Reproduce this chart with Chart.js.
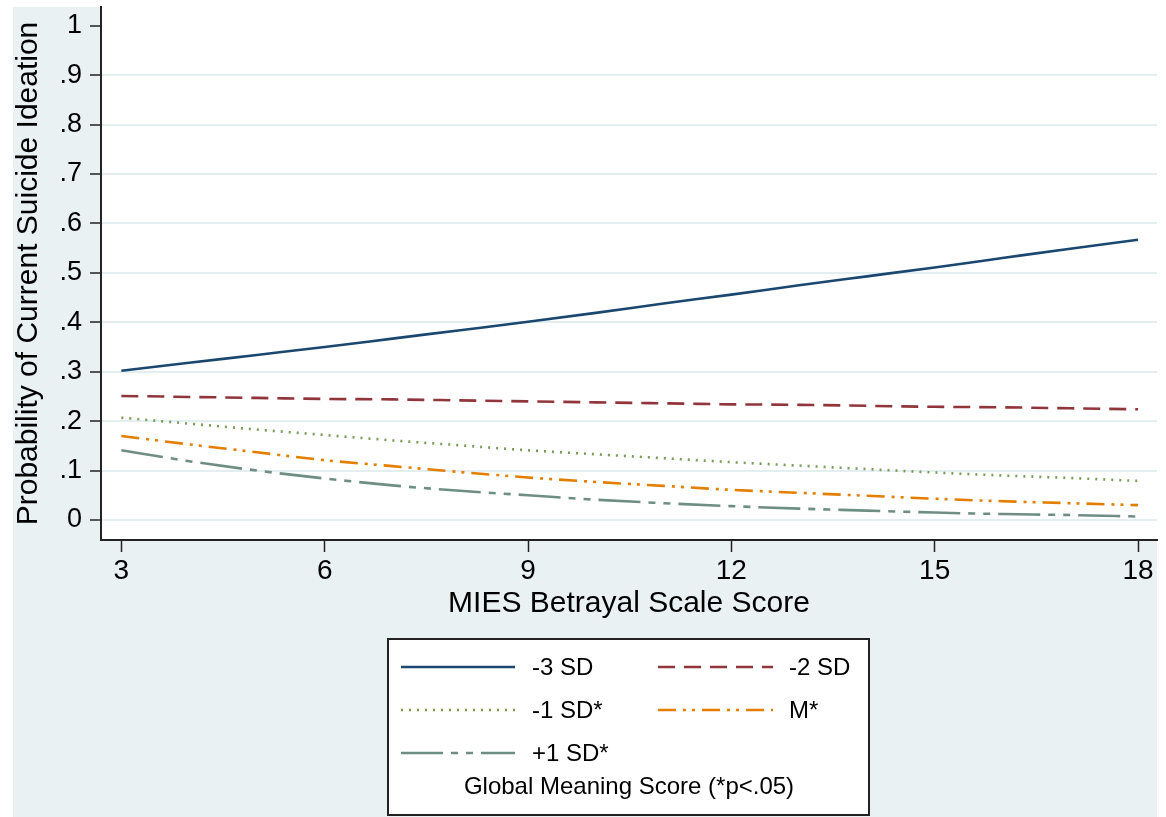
<!DOCTYPE html>
<html>
<head>
<meta charset="utf-8">
<script src="https://cdn.jsdelivr.net/npm/chart.js@4.4.1/dist/chart.umd.min.js"></script>
<style>
  html, body { margin: 0; padding: 0; background: #ffffff; }
  #wrap { width: 1166px; height: 817px; position: relative; }
</style>
</head>
<body>
<div id="wrap"><canvas id="c" width="1166" height="817"></canvas></div>
<script>
// ---- data ----
const xValues = [3, 4, 5, 6, 7, 8, 9, 10, 11, 12, 13, 14, 15, 16, 17, 18];
const sdMinus3 = [0.302, 0.318, 0.334, 0.350, 0.367, 0.384, 0.401, 0.419, 0.438, 0.456, 0.475, 0.493, 0.511, 0.530, 0.549, 0.567];
const sdMinus2 = [0.251, 0.249, 0.247, 0.245, 0.244, 0.242, 0.240, 0.238, 0.236, 0.234, 0.233, 0.231, 0.229, 0.228, 0.226, 0.224];
const sdMinus1 = [0.207, 0.195, 0.183, 0.172, 0.161, 0.151, 0.141, 0.133, 0.125, 0.117, 0.110, 0.103, 0.096, 0.090, 0.085, 0.079];
const meanLine = [0.170, 0.153, 0.137, 0.121, 0.109, 0.097, 0.086, 0.077, 0.069, 0.061, 0.055, 0.049, 0.043, 0.038, 0.034, 0.030];
const sdPlus1  = [0.141, 0.119, 0.100, 0.084, 0.070, 0.059, 0.050, 0.041, 0.034, 0.028, 0.023, 0.019, 0.015, 0.012, 0.010, 0.007];
const seriesLabels = ['-3 SD', '-2 SD', '-1 SD*', 'M*', '+1 SD*'];
const yTickValues = [0, 0.1, 0.2, 0.3, 0.4, 0.5, 0.6, 0.7, 0.8, 0.9, 1];
const yTickLabels = ['0', '.1', '.2', '.3', '.4', '.5', '.6', '.7', '.8', '.9', '1'];
const xTickValues = [3, 6, 9, 12, 15, 18];
const xTitle = 'MIES Betrayal Scale Score';
const yTitle = 'Probability of Current Suicide Ideation';
const legendTitle = 'Global Meaning Score (*p<.05)';

const FONT = '"Liberation Sans", Arial, Helvetica, sans-serif';
const BG = '#eaf1f3';
const GRID = '#e3eef0';

function pts(arr) { return xValues.map((x, i) => ({ x: x, y: arr[i] })); }

const styles = [
  { color: '#1a476f', dash: [] },
  { color: '#90353b', dash: [17, 9] },
  { color: '#7a9a55', dash: [2, 6] },
  { color: '#e37e00', dash: [18, 7, 3, 6, 3, 7] },
  { color: '#6e8e84', dash: [42, 8, 7, 8, 7, 8] }
];
const seriesData = [sdMinus3, sdMinus2, sdMinus1, meanLine, sdPlus1];

const datasets = seriesData.map((arr, i) => ({
  label: seriesLabels[i],
  data: pts(arr),
  borderColor: styles[i].color,
  borderDash: styles[i].dash,
  borderWidth: 2.6,
  borderCapStyle: 'butt',
  pointRadius: 0,
  fill: false,
  cubicInterpolationMode: 'monotone'
}));

const decorPlugin = {
  id: 'decor',
  beforeDraw(chart) {
    const ctx = chart.ctx;
    const a = chart.chartArea;
    ctx.save();
    ctx.fillStyle = '#ffffff';
    ctx.fillRect(0, 0, chart.width, chart.height);
    ctx.fillStyle = BG;
    ctx.fillRect(13, 7, a.right - 13, chart.height - 7);
    ctx.fillStyle = '#ffffff';
    ctx.fillRect(a.left, a.top, a.right - a.left, a.bottom - a.top);
    ctx.restore();
  },
  afterDraw(chart) {
    const ctx = chart.ctx;
    const a = chart.chartArea;
    ctx.save();
    // axis titles
    ctx.fillStyle = '#000';
    ctx.font = '30px ' + FONT;
    ctx.textAlign = 'center';
    ctx.textBaseline = 'middle';
    ctx.fillText(xTitle, (a.left + a.right) / 2, 604);
    ctx.save();
    ctx.translate(29, (a.top + a.bottom) / 2);
    ctx.rotate(-Math.PI / 2);
    ctx.fillText(yTitle, 0, 0);
    ctx.restore();

    // legend box
    const bx = 388, by = 639, bw = 481, bh = 176;
    ctx.fillStyle = '#ffffff';
    ctx.fillRect(bx, by, bw, bh);
    ctx.strokeStyle = '#222';
    ctx.lineWidth = 2;
    ctx.strokeRect(bx, by, bw, bh);

    const cols = [{ lx1: 401, lx2: 515, tx: 532 }, { lx1: 658, lx2: 773, tx: 789 }];
    const rows = [667, 710, 753];
    ctx.font = '24px ' + FONT;
    ctx.textAlign = 'left';
    ctx.textBaseline = 'middle';
    chart.data.datasets.forEach((ds, i) => {
      const c = cols[i % 2], y = rows[Math.floor(i / 2)];
      ctx.save();
      ctx.strokeStyle = ds.borderColor;
      ctx.lineWidth = ds.borderWidth;
      ctx.lineCap = 'butt';
      ctx.setLineDash(ds.borderDash || []);
      ctx.beginPath();
      ctx.moveTo(c.lx1, y);
      ctx.lineTo(c.lx2, y);
      ctx.stroke();
      ctx.restore();
      ctx.fillStyle = '#000';
      ctx.fillText(ds.label, c.tx, y + 1);
    });
    ctx.textAlign = 'center';
    ctx.font = '24px ' + FONT;
    ctx.fillText(legendTitle, 629, 787);
    ctx.restore();
  }
};

new Chart(document.getElementById('c'), {
  type: 'line',
  data: { datasets: datasets },
  plugins: [decorPlugin],
  options: {
    responsive: false,
    animation: false,
    devicePixelRatio: 1,
    layout: { autoPadding: false, padding: { left: 0, right: 9, top: 7, bottom: 0 } },
    plugins: { legend: { display: false }, tooltip: { enabled: false }, title: { display: false } },
    scales: {
      x: {
        type: 'linear',
        min: 2.7,
        max: 18.28,
        afterBuildTicks(scale) { scale.ticks = xTickValues.map(v => ({ value: v })); },
        afterFit(scale) {
          scale.height = 277;
          scale.paddingLeft = 0; scale.paddingRight = 0;
          scale.paddingTop = 0; scale.paddingBottom = 0;
        },
        ticks: {
          color: '#000',
          font: { size: 28, family: FONT },
          padding: 2,
          maxRotation: 0,
          autoSkip: false,
          callback: (v) => String(v)
        },
        grid: {
          drawOnChartArea: false,
          drawTicks: true,
          tickLength: 12,
          tickColor: '#222',
          tickWidth: 1.5
        },
        border: { display: true, color: '#222', width: 2 }
      },
      y: {
        type: 'linear',
        min: -0.0405,
        max: 1.038,
        afterBuildTicks(scale) { scale.ticks = yTickValues.map(v => ({ value: v })); },
        afterFit(scale) {
          scale.width = 101;
          scale.paddingLeft = 0; scale.paddingRight = 0;
          scale.paddingTop = 0; scale.paddingBottom = 0;
        },
        ticks: {
          color: '#000',
          font: { size: 27, family: FONT },
          padding: 8,
          autoSkip: false,
          callback: (v) => {
            const i = yTickValues.findIndex(t => Math.abs(t - v) < 1e-9);
            return i >= 0 ? yTickLabels[i] : '';
          }
        },
        grid: {
          drawOnChartArea: true,
          drawTicks: true,
          tickLength: 11,
          lineWidth: 2,
          color: (ctx) => (ctx.tick && Math.abs(ctx.tick.value - 1) < 1e-9) ? 'rgba(0,0,0,0)' : GRID,
          tickColor: '#222',
          tickWidth: 1.5
        },
        border: { display: true, color: '#222', width: 2 }
      }
    }
  }
});
</script>
</body>
</html>
